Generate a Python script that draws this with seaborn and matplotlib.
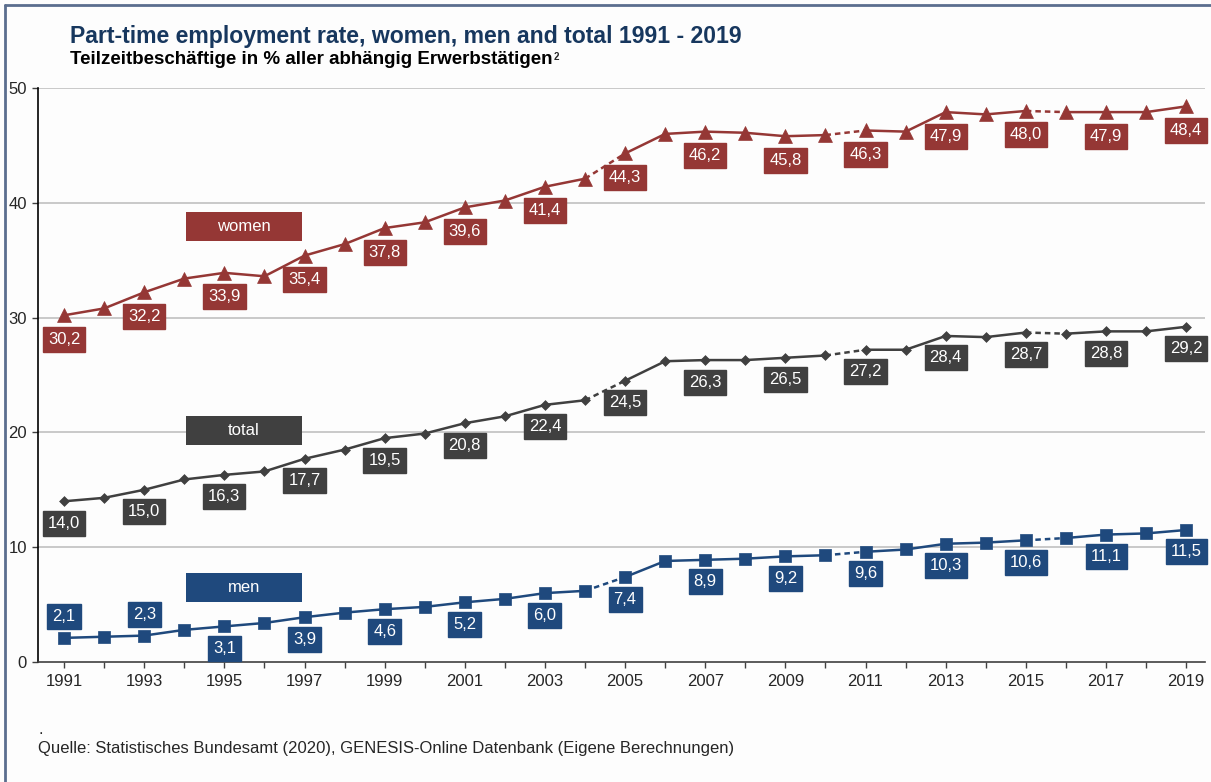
import numpy as np
import pandas as pd
import matplotlib
matplotlib.use("Agg")
import matplotlib.pyplot as plt
from matplotlib.patches import Rectangle
import seaborn as sns

# ---- data -------------------------------------------------------------
years = list(range(1991, 2020))
women = [30.2, 30.8, 32.2, 33.4, 33.9, 33.6, 35.4, 36.4, 37.8, 38.3,
         39.6, 40.2, 41.4, 42.1, 44.3, 46.0, 46.2, 46.1, 45.8, 45.9,
         46.3, 46.2, 47.9, 47.7, 48.0, 47.9, 47.9, 47.9, 48.4]
total = [14.0, 14.3, 15.0, 15.9, 16.3, 16.6, 17.7, 18.5, 19.5, 19.9,
         20.8, 21.4, 22.4, 22.8, 24.5, 26.2, 26.3, 26.3, 26.5, 26.7,
         27.2, 27.2, 28.4, 28.3, 28.7, 28.6, 28.8, 28.8, 29.2]
men = [2.1, 2.2, 2.3, 2.8, 3.1, 3.4, 3.9, 4.3, 4.6, 4.8,
       5.2, 5.5, 6.0, 6.2, 7.4, 8.8, 8.9, 9.0, 9.2, 9.3,
       9.6, 9.8, 10.3, 10.4, 10.6, 10.8, 11.1, 11.2, 11.5]
series_names = ["women", "total", "men"]
labelled_years = list(range(1991, 2020, 2))
# years after which the series has a methodological break (drawn dashed)
break_after = [2004, 2010, 2015]
men_labels_above = [1991, 1993]
x_ticklabels = [str(y) for y in range(1991, 2020, 2)]

title = "Part-time employment rate, women, men and total 1991 - 2019"
subtitle = "Teilzeitbeschäftige in % aller abhängig Erwerbstätigen"
source = "Quelle: Statistisches Bundesamt (2020), GENESIS-Online Datenbank (Eigene Berechnungen)"

# ---- style ------------------------------------------------------------
sns.set_theme(style="white")
plt.rcParams["font.family"] = ["Liberation Sans", "DejaVu Sans"]

colors = {"women": "#953735", "total": "#404040", "men": "#1F497D"}
markers = {"women": "^", "total": "D", "men": "s"}
msizes = {"women": 10, "total": 5, "men": 8}

df = pd.DataFrame({"year": years, "women": women, "total": total, "men": men})
long = df.melt(id_vars="year", var_name="series", value_name="value")

W, H = 1211, 782
fig = plt.figure(figsize=(W / 100, H / 100), dpi=100, facecolor="#FDFDFD")
ax = fig.add_axes([38 / W, 1 - 662 / H, (1205 - 38) / W, (662 - 88) / H])
ax.set_facecolor("#FDFDFD")

# split every series into solid runs and dashed break connectors
bounds = [1991] + break_after + [2019]
for name in series_names:
    sub = long[long.series == name]
    c = colors[name]
    for i in range(len(bounds) - 1):
        start = bounds[i] if i == 0 else bounds[i] + 1
        seg = sub[(sub.year >= start) & (sub.year <= bounds[i + 1])]
        sns.lineplot(data=seg, x="year", y="value", color=c, lw=1.8,
                     ax=ax, legend=False)
    for b in break_after:
        seg = sub[(sub.year >= b) & (sub.year <= b + 1)]
        sns.lineplot(data=seg, x="year", y="value", color=c, lw=1.8,
                     linestyle=(0, (2.2, 1.6)), ax=ax, legend=False)
    sns.scatterplot(data=sub, x="year", y="value", color=c,
                    marker=markers[name], s=msizes[name] ** 2,
                    edgecolor=c, linewidth=0.5, ax=ax, legend=False, zorder=5)

    # value labels in coloured boxes
    for yr, v in zip(sub.year, sub.value):
        if yr not in labelled_years:
            continue
        above = name == "men" and yr in men_labels_above
        dy = 21 if above else (-24 if name == "women" else -22)
        ax.annotate(f"{v:.1f}".replace(".", ","), xy=(yr, v),
                    xytext=(0, dy), textcoords="offset pixels",
                    ha="center", va="center", color="white", fontsize=12,
                    bbox=dict(boxstyle="square,pad=0.3", fc=c, ec=c),
                    zorder=6)

# series name boxes
name_boxes = {"women": 37.9, "total": 20.2, "men": 6.5}
box_w, box_h = 2.9, 2.53
for name, yc in name_boxes.items():
    ax.add_patch(Rectangle((1995.49 - box_w / 2, yc - box_h / 2), box_w, box_h,
                           fc=colors[name], ec="none", zorder=4))
    ax.text(1995.49, yc, name, color="white", ha="center", va="center",
            fontsize=12, zorder=5)

# ---- axes -------------------------------------------------------------
ax.set_xlim(1990.35, 2019.47)
ax.set_ylim(0, 50)
ax.set_yticks(range(0, 51, 10))
ax.set_yticklabels([str(v) for v in range(0, 51, 10)], fontsize=12)
ax.set_xticks(years, minor=True)
ax.set_xticks(list(range(1991, 2020, 2)))
ax.set_xticklabels(x_ticklabels, fontsize=12)
ax.set_xlabel("")
ax.set_ylabel("")
for y in range(10, 51, 10):
    ax.axhline(y, color="#C0C0C0", lw=1.2, zorder=0)
for s in ["top", "right"]:
    ax.spines[s].set_visible(False)
ax.spines["left"].set_color("#000000")
ax.spines["bottom"].set_color("#404040")
ax.spines["left"].set_linewidth(1.2)
ax.spines["bottom"].set_linewidth(1.2)
ax.tick_params(axis="both", which="both", direction="out", length=4,
               width=1, color="#404040", bottom=True, left=True, pad=5)
ax.tick_params(axis="x", which="minor", length=4)
ax.tick_params(axis="y", pad=4)

# ---- titles and source ------------------------------------------------
fig.text(70 / W, 1 - 36 / H, title, color="#17375E", fontsize=16.6,
         fontweight="bold", va="center", ha="left")
sub_txt = fig.text(70 / W, 1 - 60 / H, subtitle, color="#000000",
                   fontsize=13.5, fontweight="bold", va="center", ha="left")
ax.annotate("2", xy=(1, 0.7), xycoords=sub_txt, xytext=(1, 0),
            textcoords="offset pixels", fontsize=7, fontweight="bold",
            va="center", ha="left", annotation_clip=False)
fig.text(38 / W, 1 - 729 / H, ".", fontsize=12, va="center", ha="left")
fig.text(38 / W, 1 - 749 / H, source, fontsize=12, va="center", ha="left")

# figure frame (top and left edges)
fig.add_artist(plt.Line2D([5 / W, 5 / W], [0, 1 - 5 / H], color="#5B6E8E",
                          lw=2, transform=fig.transFigure))
fig.add_artist(plt.Line2D([5 / W, 1], [1 - 5 / H, 1 - 5 / H], color="#5B6E8E",
                          lw=2, transform=fig.transFigure))

fig.savefig("out.png", dpi=100, facecolor=fig.get_facecolor())
